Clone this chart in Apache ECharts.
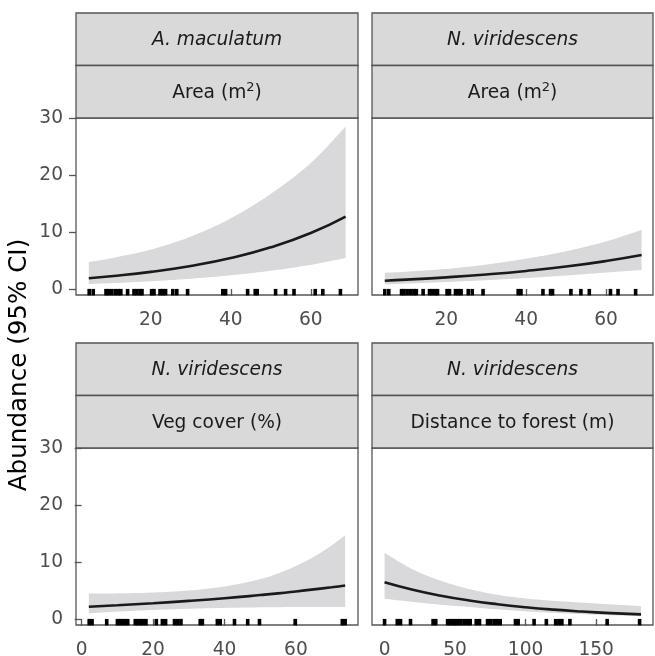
<!DOCTYPE html>
<html>
<head>
<meta charset="utf-8">
<script src="https://cdn.jsdelivr.net/npm/echarts@6/dist/echarts.min.js"></script>
<style>
  html, body { margin: 0; padding: 0; background: #fff; }
  #chart { width: 655px; height: 656px; }
</style>
</head>
<body>
<div id="chart"></div>
<script>
/* ---- Data ---- */

// A. maculatum ~ Area (m2)
let amAreaX   = [4.5, 10, 20, 30, 40, 50, 60, 68.7];
let amAreaFit = [1.9, 2.24, 3.01, 4.04, 5.43, 7.31, 9.82, 12.7];
let amAreaLo  = [0.88, 1.02, 1.36, 1.81, 2.41, 3.2, 4.25, 5.43];
let amAreaHi  = [4.73, 5.38, 6.92, 9.2, 12.4, 16.7, 22.1, 28.5];

// N. viridescens ~ Area (m2)
let nvAreaX   = [4.6, 10, 20, 30, 40, 50, 60, 68.9];
let nvAreaFit = [1.46, 1.64, 2.05, 2.55, 3.17, 3.94, 4.91, 5.96];
let nvAreaLo  = [0.82, 0.95, 1.23, 1.55, 1.92, 2.37, 2.9, 3.33];
let nvAreaHi  = [2.86, 3.03, 3.53, 4.28, 5.33, 6.62, 8.35, 10.37];

// N. viridescens ~ Veg cover (%)
let nvVegX   = [2, 10, 20, 30, 40, 50, 55, 60, 65, 70, 73.8];
let nvVegFit = [2.15, 2.41, 2.77, 3.18, 3.65, 4.2, 4.5, 4.84, 5.2, 5.57, 5.88];
let nvVegLo  = [1.0, 1.3, 1.6, 1.8, 1.95, 2.05, 2.08, 2.1, 2.1, 2.1, 2.1];
let nvVegHi  = [4.48, 4.5, 4.65, 5.0, 5.7, 7.0, 8.0, 9.3, 10.9, 12.9, 14.7];

// N. viridescens ~ Distance to forest (m)
let nvDistX   = [0, 20, 40, 60, 80, 100, 120, 140, 160, 181.8];
let nvDistFit = [6.46, 5.14, 4.09, 3.25, 2.59, 2.06, 1.64, 1.31, 1.04, 0.81];
let nvDistLo  = [3.55, 3.0, 2.5, 2.1, 1.7, 1.35, 1.07, 0.85, 0.67, 0.5];
let nvDistHi  = [11.6, 8.7, 6.7, 5.25, 4.25, 3.6, 3.2, 2.88, 2.58, 2.27];

// observed site values (rug)
let areaRug = [4.6, 5.6, 8.8, 9.4, 10.2, 11.1, 11.9, 12.5, 14.2, 15.8, 16.5, 17.3, 17.8,
  20.2, 20.8, 22.3, 23, 23.7, 25.5, 26.5, 29.2, 38, 38.7, 44.2, 46.1, 46.6, 51.2,
  53.7, 55.8, 61.1, 63, 67.4];
let vegRug = [2.1, 2.9, 7.0, 10, 10.7, 11.4, 12.2, 12.9, 15, 15.7, 16.5, 17.2, 18, 20.9,
  22.6, 23.5, 26, 26.9, 27.8, 33.2, 33.8, 38, 38.8, 42.8, 46.5, 49.8, 59.8, 73, 73.8];
let distRug = [0, 9, 11.3, 18.4, 34.4, 36.3, 44.7, 46.6, 48.5, 50.4, 52.3, 54.2, 56.5,
  58.9, 60.7, 65, 67.3, 73, 75.3, 77.7, 80, 82, 92.8, 94.7, 106, 114.7, 121.3, 123.6,
  125.7, 131.4, 157.8, 180.8];

// tick labels
let yTicks = [0, 10, 20, 30];
let areaTicks = [20, 40, 60];
let vegTicks = [0, 20, 40, 60];
let distTicks = [0, 50, 100, 150];

let speciesLabels = ["A. maculatum", "N. viridescens", "N. viridescens", "N. viridescens"];
let covariateLabels = ["{t|Area (m}{s|2}{t|)}", "{t|Area (m}{s|2}{t|)}", "{t|Veg cover (%)}", "{t|Distance to forest (m)}"];

/* ---- Layout / style ---- */
let FONT = "'DejaVu Sans', sans-serif";
let BORDER = "#555555";
let STRIP_FILL = "#d9d9d9";
let RIBBON = "#d9d9db";
let RUG_Y = -0.55;

let panels = [
  { x: amAreaX, fit: amAreaFit, lo: amAreaLo, hi: amAreaHi, rug: areaRug, ticks: areaTicks, min: 1.3, max: 71.8,
    box: { left: 76, top: 118, width: 282, height: 177 }, yLabels: true },
  { x: nvAreaX, fit: nvAreaFit, lo: nvAreaLo, hi: nvAreaHi, rug: areaRug, ticks: areaTicks, min: 1.4, max: 71.75,
    box: { left: 372, top: 118, width: 281, height: 177 }, yLabels: false },
  { x: nvVegX, fit: nvVegFit, lo: nvVegLo, hi: nvVegHi, rug: vegRug, ticks: vegTicks, min: -1.6, max: 77.4,
    box: { left: 76, top: 448, width: 282, height: 177 }, yLabels: true },
  { x: nvDistX, fit: nvDistFit, lo: nvDistLo, hi: nvDistHi, rug: distRug, ticks: distTicks, min: -8.9, max: 190.3,
    box: { left: 372, top: 448, width: 281, height: 177 }, yLabels: false },
];

/* Catmull-Rom through pixel points, sampled for drawing */
function splinePoints(pts) {
  let out = [pts[0]];
  let n = pts.length;
  for (let i = 0; i < n - 1; i++) {
    let p0 = pts[Math.max(i - 1, 0)], p1 = pts[i], p2 = pts[i + 1], p3 = pts[Math.min(i + 2, n - 1)];
    let c1 = [p1[0] + (p2[0] - p0[0]) / 6, p1[1] + (p2[1] - p0[1]) / 6];
    let c2 = [p2[0] - (p3[0] - p1[0]) / 6, p2[1] - (p3[1] - p1[1]) / 6];
    for (let s = 1; s <= 16; s++) {
      let t = s / 16, u = 1 - t;
      out.push([
        u * u * u * p1[0] + 3 * u * u * t * c1[0] + 3 * u * t * t * c2[0] + t * t * t * p2[0],
        u * u * u * p1[1] + 3 * u * u * t * c1[1] + 3 * u * t * t * c2[1] + t * t * t * p2[1],
      ]);
    }
  }
  return out;
}

let grids = [], xAxes = [], yAxes = [], series = [], graphics = [];

panels.forEach(function (p, i) {
  grids.push({
    left: p.box.left, top: p.box.top, width: p.box.width, height: p.box.height,
    outerBoundsMode: "none", containLabel: false,
    show: true, borderColor: BORDER, borderWidth: 1.3, backgroundColor: "#fff",
  });

  xAxes.push({
    gridIndex: i, type: "value", min: p.min, max: p.max,
    axisLine: { show: false }, splitLine: { show: false },
    axisTick: { show: true, length: 7, customValues: p.ticks, lineStyle: { color: BORDER, width: 1.3 } },
    axisLabel: { customValues: p.ticks, color: "#4d4d4d", fontSize: 18.6, fontFamily: FONT, margin: 16 },
  });

  yAxes.push({
    gridIndex: i, type: "value", min: -1.05, max: 30,
    axisLine: { show: false }, splitLine: { show: false },
    axisTick: { show: p.yLabels, length: 7, customValues: yTicks, lineStyle: { color: BORDER, width: 1.3 } },
    axisLabel: { show: p.yLabels, customValues: yTicks, color: "#4d4d4d", fontSize: 18.6, fontFamily: FONT, margin: 13 },
  });

  // 95% CI ribbon
  series.push({
    type: "custom", xAxisIndex: i, yAxisIndex: i, silent: true, z: 1,
    data: p.x.map(function (v, k) { return [v, p.lo[k], p.hi[k]]; }),
    encode: { x: 0, y: [1, 2] },
    renderItem: function (params, api) {
      if (params.dataIndex !== 0) return null;
      let upper = p.x.map(function (v, k) { return api.coord([v, p.hi[k]]); });
      let lower = p.x.map(function (v, k) { return api.coord([v, p.lo[k]]); }).reverse();
      let pts = splinePoints(upper).concat(splinePoints(lower));
      return { type: "polygon", shape: { points: pts }, style: { fill: RIBBON } };
    },
  });

  // fitted curve
  series.push({
    type: "line", xAxisIndex: i, yAxisIndex: i,
    data: p.x.map(function (v, k) { return [v, p.fit[k]]; }),
    showSymbol: false, smooth: true,
    lineStyle: { color: "#1a1a1a", width: 2.6 }, silent: true, z: 3,
  });

  // rug
  series.push({
    type: "scatter", xAxisIndex: i, yAxisIndex: i,
    data: p.rug.map(function (v) { return [v, RUG_Y]; }),
    symbol: "rect", symbolSize: [3.6, 6.5],
    itemStyle: { color: "#000", opacity: 1 }, silent: true, z: 4,
  });

  /* strips above each panel */
  let stripTop = p.box.top - 105;
  let cx = p.box.left + p.box.width / 2;
  graphics.push({
    type: "rect", shape: { x: p.box.left, y: stripTop, width: p.box.width, height: 52.5 },
    style: { fill: STRIP_FILL, stroke: BORDER, lineWidth: 1.3 },
  });
  graphics.push({
    type: "rect", shape: { x: p.box.left, y: stripTop + 52.5, width: p.box.width, height: 52.5 },
    style: { fill: STRIP_FILL, stroke: BORDER, lineWidth: 1.3 },
  });
  graphics.push({
    type: "text", x: cx, y: stripTop + 27,
    style: { text: speciesLabels[i], fill: "#1a1a1a", fontSize: 18.6, fontStyle: "italic",
      fontFamily: FONT, align: "center", verticalAlign: "middle" },
  });
  graphics.push({
    type: "text", x: cx, y: stripTop + 80,
    style: {
      text: covariateLabels[i], align: "center", verticalAlign: "middle",
      rich: {
        t: { fill: "#1a1a1a", fontSize: 18.6, fontFamily: FONT },
        s: { fill: "#1a1a1a", fontSize: 13, fontFamily: FONT, verticalAlign: "top", padding: [0, 0, 11, 0] },
      },
    },
  });
});

// y axis title
graphics.push({
  type: "text", x: 20, y: 365, rotation: Math.PI / 2,
  style: { text: "Abundance (95% CI)", fill: "#000", fontSize: 24.6, fontFamily: FONT,
    align: "center", verticalAlign: "middle" },
});

let chart = echarts.init(document.getElementById("chart"), null, { renderer: "canvas" });
chart.setOption({
  animation: false,
  backgroundColor: "#fff",
  grid: grids,
  xAxis: xAxes,
  yAxis: yAxes,
  series: series,
  graphic: graphics,
});
</script>
</body>
</html>
